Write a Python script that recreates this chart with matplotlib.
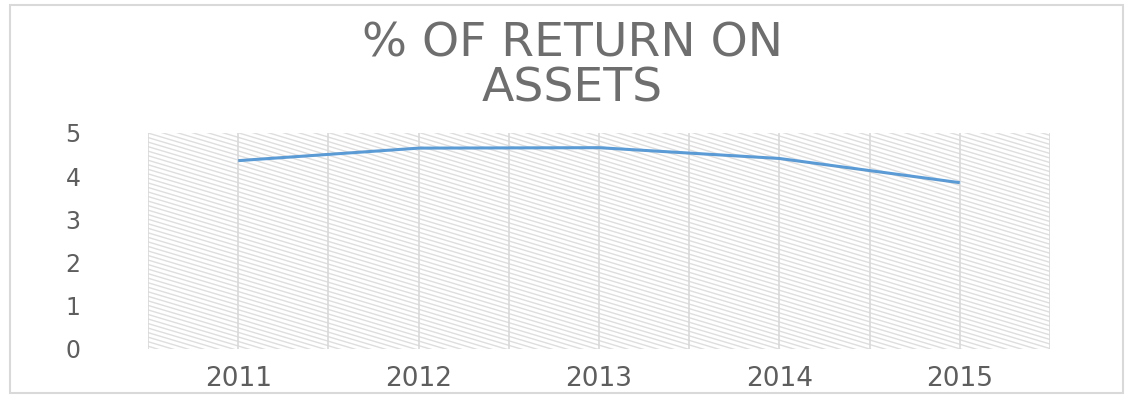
import numpy as np
import matplotlib
matplotlib.use("Agg")
import matplotlib.pyplot as plt
from matplotlib.collections import LineCollection
from matplotlib.patches import Rectangle

# Return on assets by year (%)
years = ["2011", "2012", "2013", "2014", "2015"]
roa = [4.36, 4.65, 4.66, 4.41, 3.85]
y_ticks = [0, 1, 2, 3, 4, 5]
title = "% OF RETURN ON\nASSETS"

TEXT = "#5e5e5e"
TITLE = "#6e6e6e"
GRID = "#d9d9d9"
LINE = "#5b9bd5"

plt.rcParams["font.family"] = ["DejaVu Sans"]

fig = plt.figure(figsize=(11.25, 3.98), dpi=100)
fig.patch.set_facecolor("white")

# light frame around the whole chart
fig.patches.append(Rectangle((10 / 1125, 5 / 398), 1113 / 1125, 388 / 398,
                             transform=fig.transFigure, fill=False,
                             edgecolor=GRID, linewidth=1.5))

ax = fig.add_axes([148 / 1125, 49 / 398, 902 / 1125, 216 / 398])
x = np.arange(len(years))

# diagonal hatched plot-area texture
slope = 1.25
step = 0.021
offsets = np.arange(-0.05, 1 + slope + 0.05, step)
segs = [[(0, o), (1, o - slope)] for o in offsets]
hatch = LineCollection(segs, colors="#dedede", linewidths=1.0,
                       transform=ax.transAxes, zorder=0)
ax.add_collection(hatch)

# vertical gridlines at categories and between them
for gx in np.arange(-0.5, len(years) - 0.5 + 0.01, 0.5):
    ax.axvline(gx, color=GRID, linewidth=1.2, zorder=1)

ax.plot(x, roa, color=LINE, linewidth=2.2, solid_capstyle="butt", zorder=3)

ax.set_xlim(-0.5, len(years) - 0.5)
ax.set_ylim(0, 5)
ax.set_xticks(x)
ax.set_xticklabels(years)
ax.set_yticks(y_ticks)
ax.set_yticklabels([str(t) for t in y_ticks])
ax.tick_params(axis="x", length=0, pad=12, labelsize=19, labelcolor=TEXT)
ax.tick_params(axis="y", length=0, pad=54, labelsize=17, labelcolor=TEXT)
for s in ax.spines.values():
    s.set_visible(False)
for lab in ax.get_yticklabels():
    lab.set_horizontalalignment("center")

fig.text(572 / 1125, 0.832, title, ha="center", va="center",
         fontsize=34, color=TITLE, linespacing=1.0)

fig.savefig("out.png", dpi=100, facecolor="white")
